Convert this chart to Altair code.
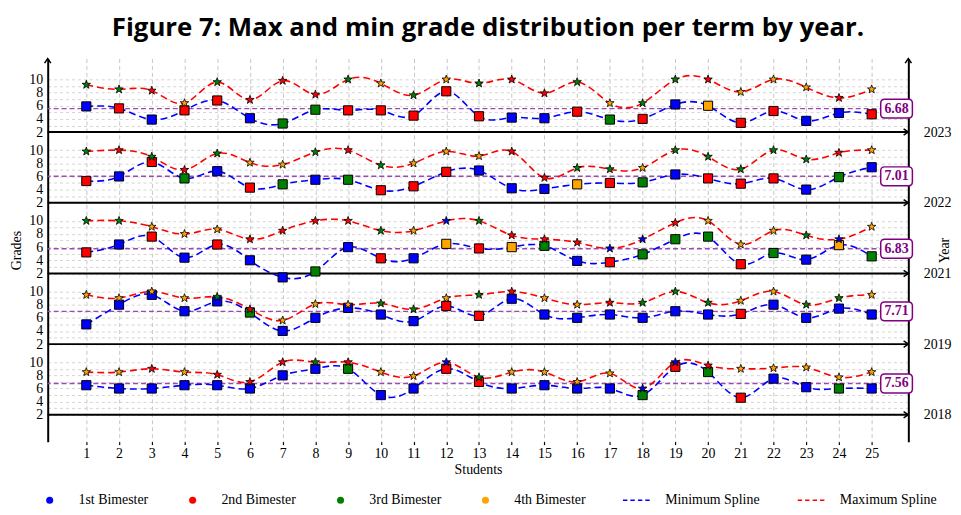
import altair as alt
import pandas as pd

# ---------------- data ----------------
students = list(range(1, 26))
years = ["2018", "2019", "2021", "2022", "2023"]          # bottom band -> top band
terms = ["1st Bimester", "2nd Bimester", "3rd Bimester", "4th Bimester"]
term_colors = ["#0000FF", "#FF0000", "#008000", "#FFA500"]

max_2023 = [9.2, 8.5, 8.3, 6.4, 9.6, 6.9, 9.8, 7.7, 10, 9.4, 7.6, 10, 9.4, 10, 7.9, 9.6, 6.4, 6.4, 10, 10, 8.1, 10, 8.8, 7.2, 8.5]
maxt_2023 = [3, 3, 2, 4, 3, 2, 2, 2, 3, 4, 3, 4, 3, 2, 2, 3, 4, 3, 3, 2, 4, 4, 4, 2, 4]
min_2023 = [5.9, 5.6, 3.9, 5.3, 6.8, 4.1, 3.3, 5.4, 5.3, 5.3, 4.5, 8.2, 4.4, 4.2, 4.1, 5.1, 3.9, 4.0, 6.2, 6.0, 3.4, 5.2, 3.7, 4.9, 4.7]
mint_2023 = [1, 2, 1, 2, 2, 1, 3, 3, 2, 2, 2, 2, 2, 1, 1, 2, 3, 2, 1, 4, 2, 2, 1, 1, 2]

max_2022 = [9.8, 10, 9.0, 7.0, 9.5, 8.1, 7.8, 9.7, 10, 7.7, 8.0, 9.8, 9.1, 9.8, 5.8, 7.3, 7.1, 7.3, 10, 9.0, 7.1, 10, 8.6, 9.6, 10]
maxt_2022 = [3, 2, 3, 2, 3, 4, 4, 3, 2, 3, 4, 4, 4, 2, 2, 3, 3, 4, 3, 3, 3, 3, 3, 2, 4]
min_2022 = [5.3, 6.0, 8.2, 5.7, 6.8, 4.3, 4.8, 5.5, 5.5, 3.9, 4.5, 6.7, 6.9, 4.2, 4.1, 4.8, 5.0, 5.1, 6.3, 5.7, 4.9, 5.7, 4.0, 5.9, 7.4]
mint_2022 = [2, 1, 2, 3, 1, 2, 3, 1, 3, 2, 2, 2, 1, 1, 1, 4, 2, 3, 1, 2, 2, 2, 1, 3, 1]

max_2021 = [10, 10, 9.1, 8.0, 8.7, 7.2, 8.5, 10, 10, 8.5, 8.5, 10, 10, 7.8, 7.2, 6.7, 5.8, 7.2, 9.7, 10, 6.4, 8.5, 7.8, 7.2, 9.1]
maxt_2021 = [3, 3, 4, 4, 4, 2, 2, 2, 2, 3, 4, 1, 3, 2, 2, 2, 1, 1, 2, 4, 4, 4, 3, 1, 4]
min_2021 = [5.2, 6.4, 7.6, 4.4, 6.4, 4.0, 1.4, 2.3, 6.0, 4.3, 4.3, 6.5, 5.8, 6.0, 6.2, 3.9, 3.7, 4.9, 7.2, 7.6, 3.4, 5.1, 4.1, 6.3, 4.6]
mint_2021 = [2, 1, 2, 1, 2, 1, 1, 3, 1, 2, 1, 4, 2, 4, 3, 1, 2, 3, 3, 3, 2, 3, 1, 4, 3]

max_2019 = [9.5, 9.0, 10, 9.0, 9.2, 7.3, 5.6, 8.1, 8.0, 8.2, 7.3, 9.0, 9.5, 10, 9.0, 8.0, 8.3, 8.3, 10, 8.3, 8.6, 10, 8.0, 9.0, 9.5]
maxt_2019 = [4, 4, 4, 4, 3, 2, 4, 4, 4, 3, 3, 4, 3, 2, 4, 4, 2, 3, 3, 3, 4, 4, 3, 3, 4]
min_2019 = [5.0, 8.0, 9.5, 7.0, 8.5, 6.8, 4.0, 6.0, 7.5, 6.5, 5.5, 7.8, 6.3, 8.9, 6.5, 6.0, 6.5, 6.0, 7.0, 6.5, 6.6, 8.0, 6.0, 7.4, 6.5]
mint_2019 = [1, 1, 1, 1, 1, 3, 1, 1, 1, 1, 1, 2, 2, 1, 1, 1, 1, 1, 1, 1, 2, 1, 1, 1, 1]

max_2018 = [8.5, 8.5, 9.0, 8.5, 8.1, 7.0, 10, 10, 10, 8.5, 7.9, 10, 7.7, 8.5, 8.5, 7.0, 8.3, 6.0, 10, 9.5, 9.0, 9.1, 9.2, 7.7, 8.5]
maxt_2018 = [4, 4, 2, 4, 2, 2, 2, 3, 2, 4, 4, 1, 3, 4, 4, 4, 4, 1, 1, 2, 4, 4, 4, 4, 4]
min_2018 = [6.5, 6.0, 6.0, 6.5, 6.5, 6.0, 8.0, 9.0, 9.0, 5.0, 6.0, 9.0, 7.0, 6.0, 6.5, 6.0, 6.0, 5.0, 9.3, 8.5, 4.6, 7.5, 6.2, 6.0, 6.0]
mint_2018 = [1, 1, 1, 1, 1, 1, 1, 1, 3, 1, 1, 2, 2, 1, 1, 1, 1, 3, 2, 3, 2, 1, 1, 3, 1]

max_by_year = {"2018": max_2018, "2019": max_2019, "2021": max_2021, "2022": max_2022, "2023": max_2023}
maxt_by_year = {"2018": maxt_2018, "2019": maxt_2019, "2021": maxt_2021, "2022": maxt_2022, "2023": maxt_2023}
min_by_year = {"2018": min_2018, "2019": min_2019, "2021": min_2021, "2022": min_2022, "2023": min_2023}
mint_by_year = {"2018": mint_2018, "2019": mint_2019, "2021": mint_2021, "2022": mint_2022, "2023": mint_2023}

mean_line_value = [6.76, 6.98, 5.75, 6.02, 5.57]       # purple dashed line level per band
mean_labels = ["7.56", "7.71", "6.83", "7.01", "6.68"]  # boxed labels per band

legend_entries = terms + ["Minimum Spline", "Maximum Spline"]
legend_colors = term_colors + ["#0000FF", "#FF0000"]

# ---------------- layout constants ----------------
BAND = 10.75                 # vertical offset between stacked year bands (grade units)
X_DOMAIN = [-0.18, 26.12]
Y_DOMAIN = [-2.08, 56.19]
LABEL_X = 25.76
SERIF = "Liberation Serif"

rows = []
for k, yr in enumerate(years):
    for i, s in enumerate(students):
        rows.append({
            "year": yr, "student": s,
            "Ymax": max_by_year[yr][i] + BAND * k,
            "Ymin": min_by_year[yr][i] + BAND * k,
            "tmax": terms[maxt_by_year[yr][i] - 1],
            "tmin": terms[mint_by_year[yr][i] - 1],
        })
df = pd.DataFrame(rows)

bands = pd.DataFrame({
    "year": years,
    "base": [2 + BAND * k for k in range(len(years))],
    "mean": [mean_line_value[k] + BAND * k for k in range(len(years))],
    "label": mean_labels,
    "xr": [X_DOMAIN[1]] * len(years),
    "xl": [LABEL_X] * len(years),
})
top_arrows = pd.DataFrame({"x": X_DOMAIN, "y": [Y_DOMAIN[1]] * 2})
legend_df = pd.DataFrame({"entry": legend_entries})

LEFT_VALS = [v + BAND * k for k in range(len(years)) for v in range(2, 11)]
BASE_VALS = [2 + BAND * k for k in range(len(years))]
year_list_expr = "[" + ",".join("'" + y + "'" for y in years) + "]"

xscale = alt.Scale(domain=X_DOMAIN, nice=False, zero=False)
yscale = alt.Scale(domain=Y_DOMAIN, nice=False, zero=False)

XAX = alt.Axis(values=students, title="Students", grid=True, gridDash=[4, 3],
               gridColor="#c6c6c6", gridWidth=1, domain=False, ticks=True,
               tickColor="black", tickSize=3, tickWidth=1.2, labelFont=SERIF,
               labelFontSize=14, labelColor="black", labelPadding=2,
               labelFlush=False, labelOverlap=False, titleFont=SERIF,
               titleFontSize=14, titleFontWeight="normal", titleColor="black",
               titlePadding=2)

v_expr = "(datum.value - 10.75*floor(datum.value/10.75))"
YAX_L = alt.Axis(orient="left", values=LEFT_VALS,
                 labelExpr=f"{v_expr} % 2 == 0 ? format({v_expr}, 'd') : ''",
                 title="Grades", grid=True, gridDash=[3, 3], gridColor="#d4d4d4",
                 gridWidth=1, domain=True, domainColor="black", domainWidth=2,
                 ticks=False, labelFont=SERIF, labelFontSize=14, labelColor="black",
                 labelPadding=5, labelOverlap=False, labelBound=False,
                 titleFont=SERIF, titleFontSize=14, titleFontWeight="normal",
                 titleColor="black", titlePadding=5)

YAX_R = alt.Axis(orient="right", values=BASE_VALS,
                 labelExpr=f"{year_list_expr}[floor(datum.value/10.75)]",
                 title="Year", grid=False, domain=True, domainColor="black",
                 domainWidth=2, ticks=False, labelFont=SERIF, labelFontSize=14,
                 labelColor="black", labelPadding=15, labelOverlap=False,
                 titleFont=SERIF, titleFontSize=14, titleFontWeight="normal",
                 titleColor="black", titleAngle=270, titleX=36,
                 titleAlign="center", titleBaseline="middle")

UP_ARROW = "M-1,1.5L0,0L1,1.5"
RIGHT_ARROW = "M-1.5,-1L0,0L-1.5,1"
STAR = ("M0,-1L0.235,-0.324L0.951,-0.309L0.38,0.124L0.588,0.809L0,0.4"
        "L-0.588,0.809L-0.38,0.124L-0.951,-0.309L-0.235,-0.324Z")
BOX = ("M-1.26,-1H1.26Q1.68,-1 1.68,-0.58V0.58Q1.68,1 1.26,1H-1.26"
       "Q-1.68,1 -1.68,0.58V-0.58Q-1.68,-1 -1.26,-1Z")
DASH = ("M-3.8,-0.22H-2.55V0.22H-3.8Z M-1.7,-0.22H-0.45V0.22H-1.7Z "
        "M0.45,-0.22H1.7V0.22H0.45Z M2.55,-0.22H3.8V0.22H2.55Z")
legend_shapes = ["circle"] * 4 + [DASH, DASH]

# ---------------- layers ----------------
mean_rules = alt.Chart(bands).mark_rule(
    color="#9a4bb0", strokeDash=[5, 3], strokeWidth=1.4
).encode(y=alt.Y("mean:Q", scale=yscale, axis=YAX_L))

base_rules = alt.Chart(bands).mark_rule(color="black", strokeWidth=2).encode(
    y=alt.Y("base:Q", scale=yscale, axis=YAX_R))

min_line = alt.Chart(df).mark_line(
    interpolate="natural", color="#0000FF", strokeDash=[7, 4], strokeWidth=1.6
).encode(x=alt.X("student:Q", scale=xscale, axis=XAX),
         y=alt.Y("Ymin:Q", scale=yscale, axis=None), detail="year:N")

max_line = alt.Chart(df).mark_line(
    interpolate="natural", color="#FF0000", strokeDash=[7, 4], strokeWidth=1.6
).encode(x=alt.X("student:Q", scale=xscale, axis=XAX),
         y=alt.Y("Ymax:Q", scale=yscale, axis=None), detail="year:N")

fill_scale = alt.Scale(domain=terms, range=term_colors)

squares = alt.Chart(df).mark_point(
    shape="square", filled=True, size=85, stroke="black", strokeWidth=1, opacity=1
).encode(x=alt.X("student:Q", scale=xscale, axis=XAX),
         y=alt.Y("Ymin:Q", scale=yscale, axis=None),
         fill=alt.Fill("tmin:N", scale=fill_scale, legend=None))

stars = alt.Chart(df).mark_point(
    shape=STAR, filled=True, size=80, stroke="black", strokeWidth=0.8, opacity=1
).encode(x=alt.X("student:Q", scale=xscale, axis=XAX),
         y=alt.Y("Ymax:Q", scale=yscale, axis=None),
         fill=alt.Fill("tmax:N", scale=fill_scale, legend=None))

right_arrows = alt.Chart(bands).mark_point(
    shape=RIGHT_ARROW, size=40, filled=False, stroke="black", strokeWidth=1.5, opacity=1
).encode(x=alt.X("xr:Q", scale=xscale, axis=XAX),
         y=alt.Y("base:Q", scale=yscale, axis=None))

up_arrows = alt.Chart(top_arrows).mark_point(
    shape=UP_ARROW, size=40, filled=False, stroke="black", strokeWidth=1.5, opacity=1
).encode(x=alt.X("x:Q", scale=xscale, axis=XAX),
         y=alt.Y("y:Q", scale=yscale, axis=None))

boxes = alt.Chart(bands).mark_point(
    shape=BOX, size=361, filled=True, fill="white", stroke="#800080",
    strokeWidth=1.5, opacity=1
).encode(x=alt.X("xl:Q", scale=xscale, axis=XAX),
         y=alt.Y("mean:Q", scale=yscale, axis=None))

box_text = alt.Chart(bands).mark_text(
    font=SERIF, fontSize=14, fontWeight="bold", color="#800080",
    align="center", baseline="middle"
).encode(x=alt.X("xl:Q", scale=xscale, axis=XAX),
         y=alt.Y("mean:Q", scale=yscale, axis=None), text="label:N")

LEG = alt.Legend(title=None, orient="none", legendX=-5, legendY=438,
                 direction="horizontal", labelFont=SERIF, labelFontSize=14,
                 labelColor="black", symbolSize=50, symbolOpacity=1,
                 symbolStrokeWidth=0, labelOffset=22, columnPadding=37,
                 padding=0, labelLimit=200)

legend_layer = alt.Chart(legend_df).mark_point(filled=True, opacity=0).encode(
    color=alt.Color("entry:N", scale=alt.Scale(domain=legend_entries, range=legend_colors),
                    legend=LEG),
    shape=alt.Shape("entry:N", scale=alt.Scale(domain=legend_entries, range=legend_shapes),
                    legend=LEG),
)

chart = alt.layer(
    mean_rules, base_rules, min_line, max_line, squares, stars,
    right_arrows, up_arrows, boxes, box_text, legend_layer
).resolve_scale(y="shared").resolve_axis(y="independent").properties(
    width=867, height=386,
    autosize=alt.AutoSizeParams(type="none"),
    padding={"left": 40, "top": 49, "right": 45, "bottom": 64},
    background="white",
    title=alt.TitleParams(
        text="Figure 7: Max and min grade distribution per term by year.",
        font="Open Sans", fontSize=26, fontWeight="bold", color="black",
        anchor="middle", baseline="alphabetic", offset=-6, dx=10),
).configure_view(stroke="transparent")

chart.save("out.html", embed_options={"renderer": "svg", "actions": False})
